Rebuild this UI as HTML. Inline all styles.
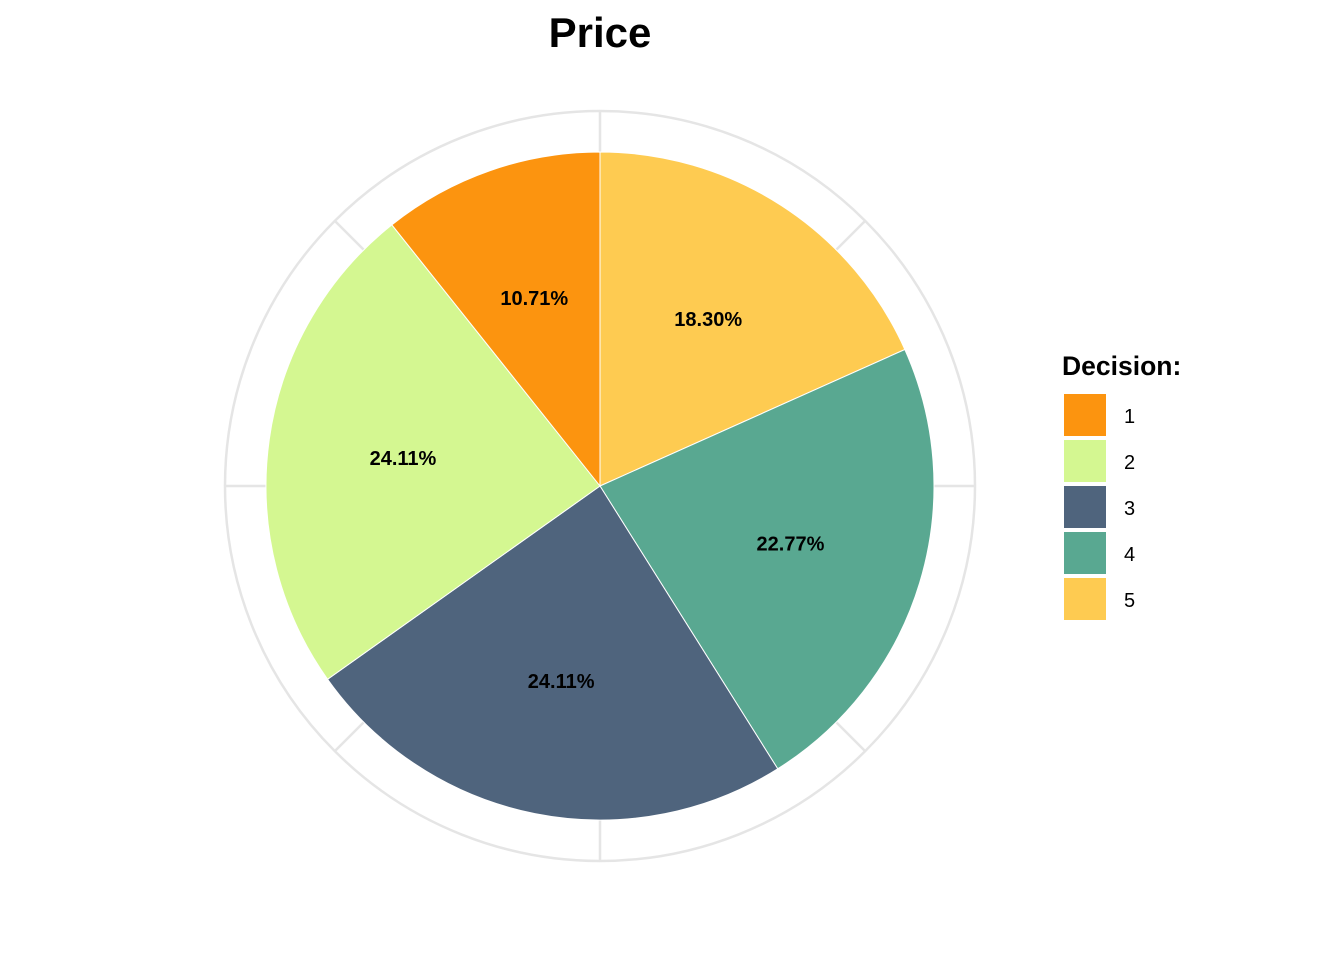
<!DOCTYPE html>
<html><head><meta charset="utf-8"><style>
body{margin:0;background:#fff;font-family:"Liberation Sans",Arial,sans-serif}
</style></head><body>
<svg id="chart" width="1344" height="960" xmlns="http://www.w3.org/2000/svg">
<rect width="1344" height="960" fill="#fff"/>
<text x="600" y="47" text-anchor="middle" font-size="42" font-weight="bold" font-family="Liberation Sans, sans-serif">Price</text>
<g id="grid"></g>
<g id="slices"></g>
<g id="labels"></g>
<g id="legend"></g>
</svg>
<script>
const categories = ["1","2","3","4","5"];
const values = [10.71, 24.11, 24.11, 22.77, 18.30];
const labels = ["10.71%","24.11%","24.11%","22.77%","18.30%"];
const colors = ["#FC940F","#D4F791","#4F647D","#59A891","#FECB51"];
const NS="http://www.w3.org/2000/svg";
const cx=600, cy=486, R=334, RG=375, RL=199;
function mk(t,a,p){const e=document.createElementNS(NS,t);for(const k in a)e.setAttribute(k,a[k]);p.appendChild(e);return e;}
const grid=document.getElementById('grid');
for(let i=0;i<8;i++){const a=i*Math.PI/4;
 const l=mk('line',{x1:cx,y1:cy,x2:cx+RG*Math.sin(a),y2:cy-RG*Math.cos(a),stroke:'#e5e5e5','stroke-width':2.5},grid);
 
 }
const gc=mk('circle',{cx:cx,cy:cy,r:RG,fill:'none',stroke:'#e5e5e5','stroke-width':2.5},grid);


const total=values.reduce((a,b)=>a+b,0);
let start=0;
const sg=document.getElementById('slices'), lg=document.getElementById('labels');
for(let k=categories.length-1;k>=0;k--){
 const frac=values[k]/total, a0=start*2*Math.PI, a1=(start+frac)*2*Math.PI;
 const x0=cx+R*Math.sin(a0), y0=cy-R*Math.cos(a0), x1=cx+R*Math.sin(a1), y1=cy-R*Math.cos(a1);
 const p=mk('path',{d:`M${cx},${cy}L${x0},${y0}A${R},${R} 0 ${frac>0.5?1:0} 1 ${x1},${y1}Z`,fill:colors[k],stroke:'#fff','stroke-width':1},sg);
 
 
 const am=(a0+a1)/2;
 const t=mk('text',{x:cx+RL*Math.sin(am),y:cy-RL*Math.cos(am)+7,'text-anchor':'middle','font-size':20,'font-weight':'bold','font-family':'Liberation Sans, sans-serif'},lg);
 t.textContent=labels[k];
 
 
 start+=frac;
}
const leg=document.getElementById('legend');
const lt=mk('text',{x:1062,y:375,'font-size':26.5,'font-weight':'bold','font-family':'Liberation Sans, sans-serif'},leg);
lt.textContent='Decision:';


categories.forEach((c,i)=>{
 const r=mk('rect',{x:1064,y:394+i*46,width:42,height:42,fill:colors[i]},leg);
 
 
 const t=mk('text',{x:1124,y:423+i*46,'font-size':20,'font-family':'Liberation Sans, sans-serif'},leg);
 t.textContent=c;
 
 
});
</script>
</body></html>
